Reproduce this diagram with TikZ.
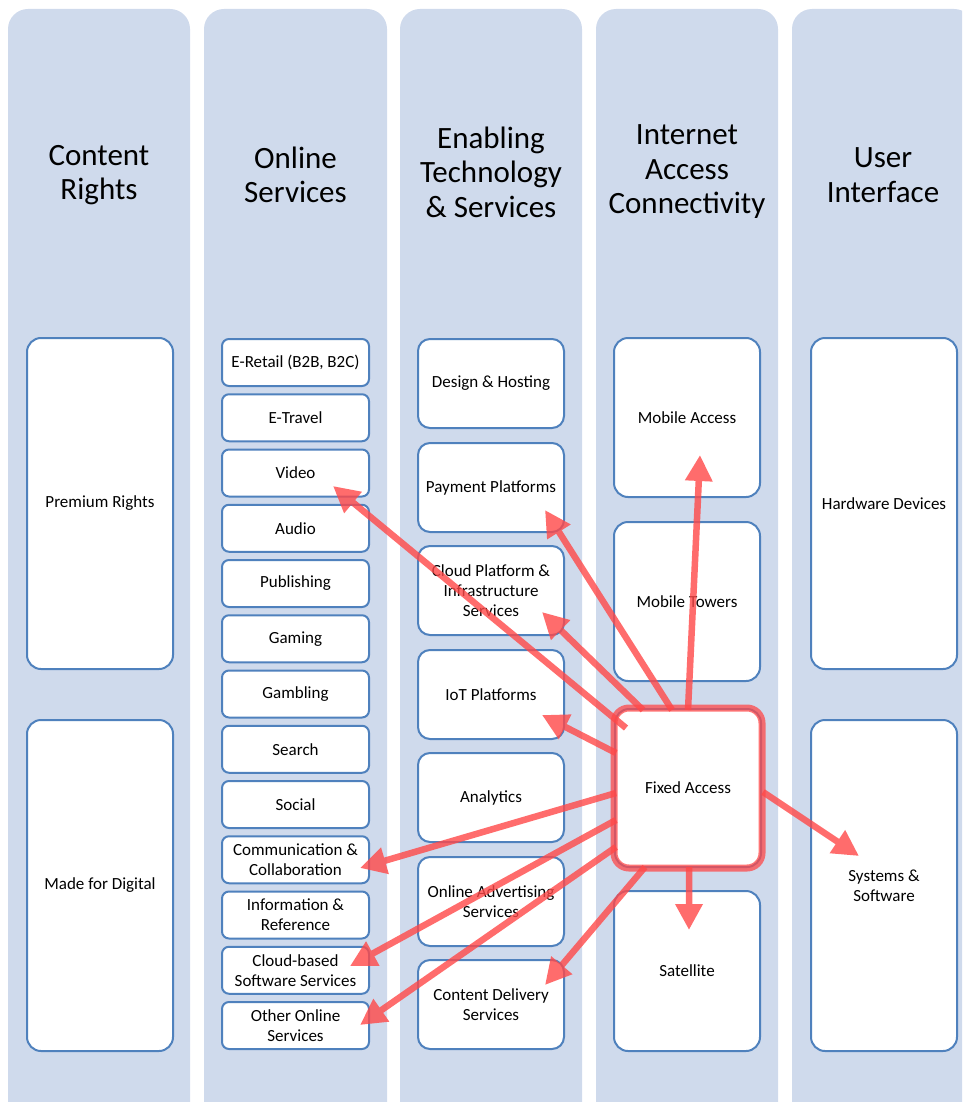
\documentclass[tikz,border=0pt]{standalone}
\usepackage{fontspec}
\setmainfont{Carlito}
\usetikzlibrary{arrows.meta}
\definecolor{colfill}{RGB}{207,218,236}
\definecolor{boxblue}{RGB}{79,129,189}
\definecolor{arrred}{RGB}{255,72,72}
\begin{document}
\begin{tikzpicture}[x=1pt,y=-1pt,
  col/.style={fill=colfill, rounded corners=20pt},
  hdr/.style={font=\fontsize{31}{34.5}\selectfont, align=center, inner sep=0pt},
  box/.style={draw=boxblue, line width=2pt, fill=white, align=center, font=\fontsize{17}{20}\selectfont, inner sep=0pt},
  smallbox/.style={box, minimum width=147pt, minimum height=47pt, rounded corners=7pt},
  midbox/.style={box, minimum width=146pt, minimum height=89pt, rounded corners=12pt},
  tallbox/.style={box, minimum width=146pt, minimum height=159pt, rounded corners=14pt},
  bigbox/.style={box, minimum width=146pt, minimum height=331pt, rounded corners=14pt},
  arr/.style={draw=arrred, fill=arrred, line width=6.5pt, -{Triangle[length=26pt,width=26pt]}},
  hilite/.style={draw=arrred, line width=7pt, opacity=0.75, rounded corners=15pt}]
\useasboundingbox (0,0) rectangle (962,1102);
\clip (0,0) rectangle (962,1102);
% columns
\fill[col] (8,9) rectangle (190,1140);
\fill[col] (204,9) rectangle (387,1140);
\fill[col] (400,9) rectangle (582,1140);
\fill[col] (596,9) rectangle (778,1140);
\fill[col] (792,9) rectangle (974,1140);
% headers
\node[hdr] (h1) at (99,175) {Content\\Rights};
\node[hdr] (h2) at (295.5,175) {Online\\Services};
\node[hdr] (h3) at (491,172) {Enabling\\Technology\\\& Services};
\node[hdr] (h4) at (687,172) {Internet\\Access\\Connectivity};
\node[hdr] (h5) at (883,175) {User\\Interface};
% column 1
\node[bigbox] (prem) at (100,503.5) {Premium Rights};
\node[bigbox] (made) at (100,885.5) {Made for Digital};
% column 2
\node[smallbox] (eretail) at (295.5,362.5) {E-Retail (B2B, B2C)};
\node[smallbox] (etravel) at (295.5,417.75) {E-Travel};
\node[smallbox] (video) at (295.5,473) {Video};
\node[smallbox] (audio) at (295.5,528.25) {Audio};
\node[smallbox] (publ) at (295.5,583.5) {Publishing};
\node[smallbox] (gaming) at (295.5,638.75) {Gaming};
\node[smallbox] (gambling) at (295.5,694) {Gambling};
\node[smallbox] (search) at (295.5,749.25) {Search};
\node[smallbox] (social) at (295.5,804.5) {Social};
\node[smallbox] (comm) at (295.5,859.75) {Communication \&\\Collaboration};
\node[smallbox] (info) at (295.5,915) {Information \&\\Reference};
\node[smallbox] (cloudsw) at (295.5,970.25) {Cloud-based\\Software Services};
\node[smallbox] (other) at (295.5,1025.5) {Other Online\\Services};
% column 3
\node[midbox] (design) at (491,383.5) {Design \& Hosting};
\node[midbox] (payment) at (491,487.5) {Payment Platforms};
\node[midbox] (cloudpl) at (491,590.5) {Cloud Platform \&\\Infrastructure\\Services};
\node[midbox] (iot) at (491,694.5) {IoT Platforms};
\node[midbox] (analytics) at (491,797.5) {Analytics};
\node[midbox] (adv) at (491,901.5) {Online Advertising\\Services};
\node[midbox] (cdn) at (491,1004.5) {Content Delivery\\Services};
% column 4
\node[tallbox] (mobacc) at (687,417.5) {Mobile Access};
\node[tallbox] (mobtow) at (687,601.5) {Mobile Towers};
\node[tallbox, minimum height=158pt] (fa) at (688,788) {Fixed Access};
\node[tallbox, minimum height=160pt] (sat) at (687,971) {Satellite};
% column 5
\node[bigbox] (hw) at (884,503.5) {Hardware Devices};
\node[bigbox] (sys) at (884,885.5) {Systems \&\\Software};
% highlight of Fixed Access
\draw[hilite] (fa.north west) rectangle (fa.south east);
% arrow end points
\coordinate (s1) at (626,728);  \coordinate (t1) at (333,486);
\coordinate (s2) at (672,710);  \coordinate (t2) at (545,510);
\coordinate (s3) at (643,710);  \coordinate (t3) at (542,612);
\coordinate (s4) at (616,753);  \coordinate (t4) at (542,715);
\coordinate (s5) at (688,710);  \coordinate (t5) at (700,455);
\coordinate (s6) at (616,793);  \coordinate (t6) at (360,868);
\coordinate (s7) at (616,820);  \coordinate (t7) at (350,966);
\coordinate (s8) at (616,847);  \coordinate (t8) at (360,1025);
\coordinate (s9) at (645,867);  \coordinate (t9) at (545,985);
\coordinate (s10) at (689,867); \coordinate (t10) at (689,930);
\coordinate (s11) at (763,792); \coordinate (t11) at (859,856);
\foreach \i in {1,...,11} {
  \begin{scope}[transparency group, opacity=0.8]
    \draw[arr] (s\i) -- (t\i);
  \end{scope}
}
\end{tikzpicture}
\end{document}
